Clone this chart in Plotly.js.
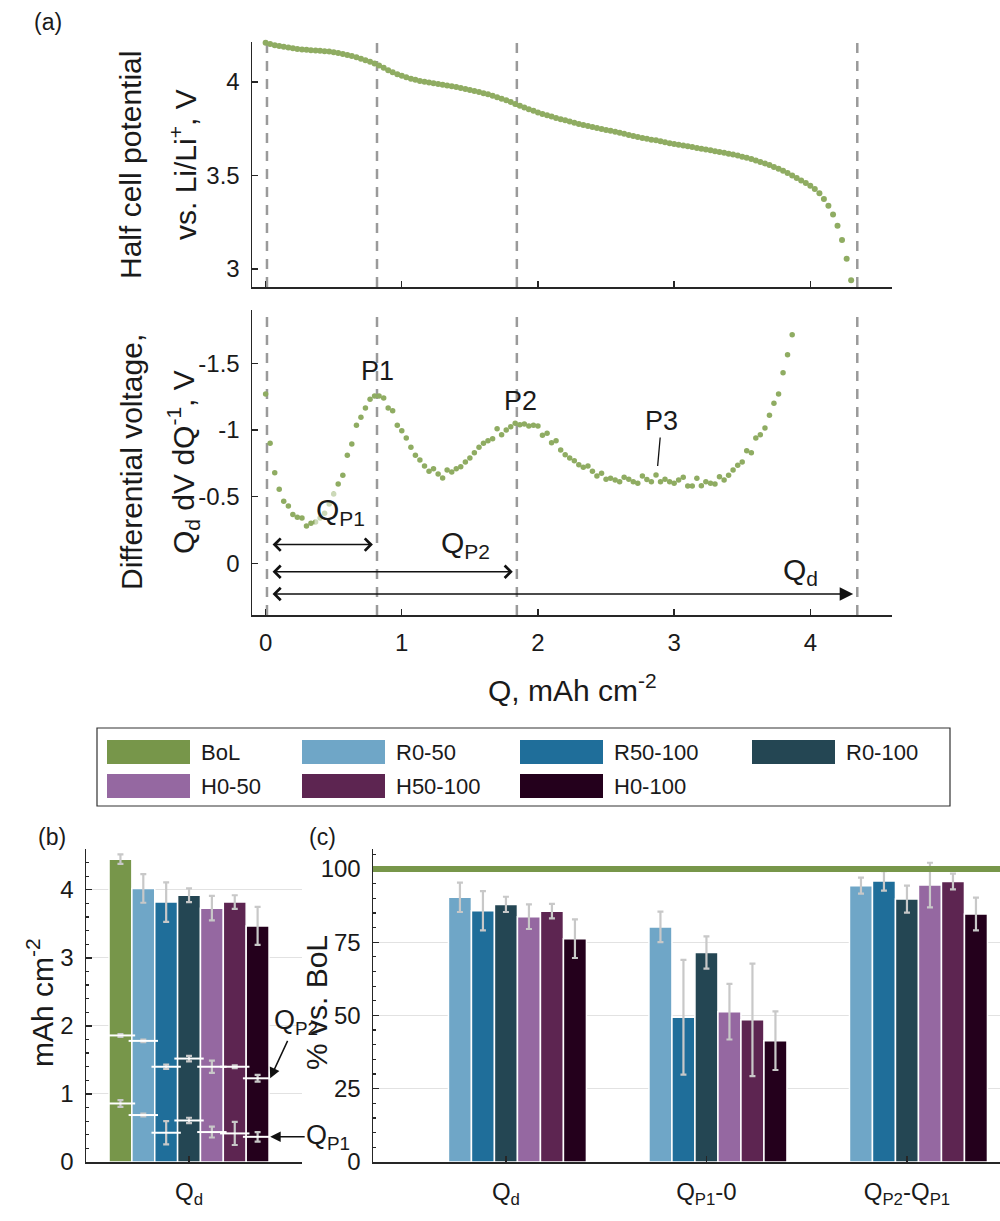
<!DOCTYPE html>
<html><head><meta charset="utf-8">
<script src="https://cdn.plot.ly/plotly-3.0.1.min.js"></script>
<style>html,body{margin:0;padding:0;background:#fff}#chart{width:1000px;height:1221px}</style>
</head><body><div id="chart"></div>
<script>
// ---------- data: panel (a) ----------
const Q = [0,0.033,0.067,0.1,0.133,0.167,0.2,0.233,0.267,0.3,
0.333,0.367,0.4,0.433,0.467,0.5,0.533,0.567,0.6,0.633,
0.667,0.7,0.733,0.767,0.8,0.833,0.867,0.9,0.933,0.967,
1,1.033,1.067,1.1,1.133,1.167,1.2,1.233,1.267,1.3,
1.333,1.367,1.4,1.433,1.467,1.5,1.533,1.567,1.6,1.633,
1.667,1.7,1.733,1.767,1.8,1.833,1.867,1.9,1.933,1.967,
2,2.033,2.067,2.1,2.133,2.167,2.2,2.233,2.267,2.3,
2.333,2.367,2.4,2.433,2.467,2.5,2.533,2.567,2.6,2.633,
2.667,2.7,2.733,2.767,2.8,2.833,2.867,2.9,2.933,2.967,
3,3.033,3.067,3.1,3.133,3.167,3.2,3.233,3.267,3.3,
3.333,3.367,3.4,3.433,3.467,3.5,3.533,3.567,3.6,3.633,
3.667,3.7,3.733,3.767,3.8,3.833,3.867,3.9,3.933,3.967,
4,4.033,4.067,4.1,4.133,4.167,4.2,4.233,4.267,4.3];

const halfCellV = [4.210,4.203,4.197,4.192,4.188,4.184,4.180,4.177,4.174,4.172,
4.170,4.168,4.167,4.165,4.163,4.159,4.155,4.150,4.145,4.139,
4.132,4.125,4.117,4.108,4.099,4.088,4.076,4.063,4.052,4.042,
4.033,4.025,4.018,4.012,4.006,4.001,3.997,3.993,3.989,3.985,
3.981,3.977,3.973,3.968,3.963,3.958,3.952,3.946,3.940,3.934,
3.927,3.919,3.911,3.902,3.893,3.883,3.873,3.864,3.855,3.846,
3.837,3.829,3.822,3.815,3.808,3.801,3.795,3.789,3.782,3.776,
3.770,3.765,3.760,3.754,3.749,3.744,3.739,3.734,3.729,3.724,
3.717,3.711,3.706,3.701,3.697,3.692,3.688,3.683,3.678,3.673,
3.669,3.665,3.660,3.656,3.652,3.647,3.643,3.639,3.635,3.630,
3.626,3.622,3.617,3.613,3.607,3.601,3.595,3.588,3.581,3.573,
3.565,3.556,3.546,3.536,3.525,3.513,3.500,3.487,3.473,3.460,
3.445,3.428,3.405,3.375,3.338,3.292,3.232,3.155,3.055,2.940];

const diffVoltage = [-1.27,-0.90,-0.68,-0.555,-0.465,-0.43,-0.365,-0.345,-0.34,-0.28,
-0.30,-0.31,-0.34,-0.375,-0.445,-0.52,-0.595,-0.66,-0.81,-0.895,
-1.035,-1.095,-1.165,-1.23,-1.255,-1.255,-1.24,-1.165,-1.145,-1.035,
-0.995,-0.94,-0.87,-0.81,-0.775,-0.73,-0.69,-0.71,-0.67,-0.64,
-0.70,-0.685,-0.71,-0.725,-0.76,-0.79,-0.83,-0.87,-0.90,-0.92,
-0.935,-1.01,-0.965,-1.00,-1.025,-1.05,-1.04,-1.045,-1.03,-1.035,
-1.03,-0.96,-0.975,-0.905,-0.92,-0.85,-0.815,-0.79,-0.77,-0.74,
-0.72,-0.73,-0.69,-0.655,-0.675,-0.63,-0.637,-0.625,-0.612,-0.645,
-0.63,-0.612,-0.60,-0.655,-0.628,-0.612,-0.662,-0.612,-0.63,-0.612,
-0.60,-0.625,-0.645,-0.58,-0.58,-0.637,-0.582,-0.612,-0.60,-0.595,
-0.65,-0.625,-0.66,-0.70,-0.735,-0.76,-0.845,-0.83,-0.94,-0.965,
-1.015,-1.11,-1.20,-1.27,-1.43,-1.565,-1.715];

// peak / end positions (Q0, QP1, QP2, Qd) and arrow heights
const markerQ = [0.01, 0.818, 1.845, 4.345];
const arrowLevel = [-0.14, 0.063, 0.23];
const peakLabels = ['P1', 'P2', 'P3'];
const peakLabelQ = [0.82, 1.87, 2.9];
const peakLabelV = [-1.44, -1.217, -1.06];
const p3PointQ = 2.879, p3PointV = -0.73;

// ---------- data: panels (b) and (c) ----------
const series = ['BoL','R0-50','R50-100','R0-100','H0-50','H50-100','H0-100'];
const seriesColors = ['#77964a','#6fa6c7','#1f6e9a','#244653','#9568a1','#5d2551','#24001c'];

const qdTotal = [4.45, 4.02, 3.82, 3.92, 3.73, 3.82, 3.47];
const qdErr   = [0.07, 0.21, 0.29, 0.10, 0.18, 0.10, 0.28];
const qp2     = [1.86, 1.78, 1.40, 1.52, 1.40, 1.40, 1.23];
const qp2Err  = [0.02, 0.02, 0.03, 0.04, 0.09, 0.02, 0.05];
const qp1     = [0.86, 0.69, 0.43, 0.61, 0.44, 0.42, 0.37];
const qp1Err  = [0.05, 0.02, 0.17, 0.04, 0.08, 0.17, 0.07];

const pctCategories = ['Q<sub>d</sub>', 'Q<sub>P1</sub>-0', 'Q<sub>P2</sub>-Q<sub>P1</sub>'];
const bolPct = 100;
const pctR050   = [90.3, 80.2, 94.3];  const errR050   = [5.0, 5.2, 2.7];
const pctR50100 = [85.7, 49.4, 95.9];  const errR50100 = [6.7, 19.6, 3.3];
const pctR0100  = [87.9, 71.5, 89.7];  const errR0100  = [2.6, 5.5, 4.6];
const pctH050   = [83.7, 51.3, 94.5];  const errH050   = [4.2, 9.5, 7.6];
const pctH50100 = [85.6, 48.5, 95.7];  const errH50100 = [2.5, 19.2, 2.7];
const pctH0100  = [76.2, 41.4, 84.6];  const errH0100  = [6.6, 10.0, 5.6];
const pctSeries = [pctR050, pctR50100, pctR0100, pctH050, pctH50100, pctH0100];
const pctErrs   = [errR050, errR50100, errR0100, errH050, errH50100, errH0100];

// ---------- layout helpers ----------
const W = 1000, H = 1221;
const px = v => v / W, py = v => 1 - v / H;
const FONT = 'Arial, "Liberation Sans", Helvetica, sans-serif';
const AX = '#262626';
const TXT = '#1a1a1a';
const DOT = '#8fac62';
const ERRC = '#c8c8c8';
const TICK = 24, TITLE = 30;

const common = {
  showline: true, linecolor: AX, linewidth: 1.5, mirror: false,
  ticks: 'inside', ticklen: 6, tickwidth: 1.3, tickcolor: AX,
  showgrid: false, zeroline: false, fixedrange: true,
  tickfont: {family: FONT, size: TICK, color: TXT}
};

const traces = [];
traces.push({type:'scatter', mode:'markers', x: Q, y: halfCellV, xaxis:'x', yaxis:'y',
  marker:{size:6, color:DOT}, hoverinfo:'skip', cliponaxis:false});
traces.push({type:'scatter', mode:'markers', x: Q.slice(0, diffVoltage.length), y: diffVoltage,
  xaxis:'x2', yaxis:'y2', marker:{size:5.5, color:DOT}, hoverinfo:'skip', cliponaxis:false});

// panel (b)
const seriesPos = series.map((s, i) => i + 1);
traces.push({type:'bar', x: seriesPos, y: qdTotal, width: 1, xaxis:'x3', yaxis:'y3',
  marker:{color: seriesColors, line:{color:'#ffffff', width:1.5}},
  error_y:{type:'data', array: qdErr, color: ERRC, thickness: 2.2, width: 3}, hoverinfo:'skip'});
[[qp2, qp2Err], [qp1, qp1Err]].forEach(([vals, errs]) => {
  traces.push({type:'scatter', mode:'markers', x: seriesPos, y: vals, xaxis:'x3', yaxis:'y3',
    marker:{symbol:'line-ew', size:21, color:'#ffffff', line:{color:'#ffffff', width:2}},
    error_y:{type:'data', array: errs, color: ERRC, thickness: 2.2, width: 3}, hoverinfo:'skip'});
});

// panel (c)
const slotW = 0.1147;
pctSeries.forEach((vals, j) => {
  const k = j + 1; // slot 0 belongs to BoL (drawn as the 100 % line)
  traces.push({type:'bar', name: series[k], x: pctCategories, y: vals, xaxis:'x4', yaxis:'y4',
    width: slotW, offset: -3.5 * slotW + k * slotW,
    marker:{color: seriesColors[k], line:{color:'#ffffff', width:1.5}},
    error_y:{type:'data', array: pctErrs[j], color: ERRC, thickness: 2.2, width: 3}, hoverinfo:'skip'});
});

// ---------- shapes ----------
const shapes = [];
['x','x2'].forEach((xr, n) => {
  const yr = n === 0 ? 'y domain' : 'y2 domain';
  markerQ.forEach(q => shapes.push({type:'line', xref: xr, yref: yr, x0:q, x1:q, y0:0, y1:1,
    line:{color:'#9a9a9a', width:2.5, dash:'10px,8px'}, layer:'below'}));
});
shapes.push({type:'line', xref:'x4 domain', yref:'y4', x0:0, x1:1, y0:bolPct, y1:bolPct,
  line:{color: seriesColors[0], width:6}, layer:'above'});

// legend (drawn manually to get the wide swatches)
const legCol = [107, 302, 520, 752], legRow = [752, 786];
const legPos = [[0,0],[1,0],[2,0],[3,0],[0,1],[1,1],[2,1]];
shapes.push({type:'rect', xref:'paper', yref:'paper', x0:px(97), x1:px(950), y0:py(806), y1:py(728),
  line:{color:'#333333', width:1.2}, fillcolor:'rgba(0,0,0,0)'});
const annotations = [];
series.forEach((name, i) => {
  const [c, r] = legPos[i];
  shapes.push({type:'rect', xref:'paper', yref:'paper', x0:px(legCol[c]), x1:px(legCol[c] + 83),
    y0:py(legRow[r] + 12), y1:py(legRow[r] - 12), line:{width:0}, fillcolor: seriesColors[i]});
  annotations.push({xref:'paper', yref:'paper', x:px(legCol[c] + 92), y:py(legRow[r]),
    xanchor:'left', yanchor:'middle', text: name, showarrow:false, font:{family:FONT, size:22, color:TXT}});
});

// ---------- annotations ----------
const txt = (text, x, y, size, extra) => Object.assign({xref:'paper', yref:'paper', x:px(x), y:py(y),
  xanchor:'center', yanchor:'middle', text, showarrow:false, font:{family:FONT, size, color:TXT}}, extra || {});
annotations.push(txt('(a)', 48, 22, 23));
annotations.push(txt('(b)', 52, 837, 23));
annotations.push(txt('(c)', 322, 837, 23));
annotations.push(txt('Half cell potential', 131, 165, TITLE, {textangle:-90}));
annotations.push(txt('vs. Li/Li<sup>+</sup>, V', 183, 165, TITLE, {textangle:-90}));
annotations.push(txt('Differential voltage,', 131, 462, TITLE, {textangle:-90}));
annotations.push(txt('Q<sub>d</sub> dV dQ<sup>-1</sup>, V', 183, 462, TITLE, {textangle:-90}));
annotations.push(txt('Q, mAh cm<sup>-2</sup>', 572, 688, TITLE));
annotations.push(txt('mAh cm<sup>-2</sup>', 40, 1003, TITLE, {textangle:-90}));
annotations.push(txt('% vs. BoL', 316, 1003, TITLE, {textangle:-90}));

// peak labels
peakLabels.slice(0, 2).forEach((t, i) => annotations.push({xref:'x2', yref:'y2', x: peakLabelQ[i], y: peakLabelV[i],
  text: t, showarrow:false, font:{family:FONT, size:27, color:TXT}}));
annotations.push({xref:'x2', yref:'y2', x: p3PointQ, y: p3PointV, ax: 4, ay: -45, text: peakLabels[2],
  showarrow:true, arrowhead:0, arrowwidth:1.3, arrowcolor:'#111', font:{family:FONT, size:27, color:TXT}});

// Q labels
annotations.push({xref:'x2', yref:'y2', x:0.55, y:-0.385, text:'Q<sub>P1</sub>', showarrow:false,
  bgcolor:'rgba(255,255,255,0.55)', font:{family:FONT, size:30, color:TXT}});
annotations.push({xref:'x2', yref:'y2', x:1.468, y:-0.14, text:'Q<sub>P2</sub>', showarrow:false,
  font:{family:FONT, size:30, color:TXT}});
annotations.push({xref:'x2', yref:'y2', x:3.93, y:0.065, text:'Q<sub>d</sub>', showarrow:false,
  font:{family:FONT, size:30, color:TXT}});

// double arrows
[1, 2, 3].forEach((k, i) => {
  annotations.push({xref:'x2', yref:'y2', axref:'x2', ayref:'y2',
    x: markerQ[k] - 0.03, y: arrowLevel[i], ax: markerQ[0] + 0.03, ay: arrowLevel[i],
    text:'', showarrow:true, arrowside:'end+start',
    arrowhead: k === 3 ? 2 : 4, startarrowhead: 4, arrowsize: k === 3 ? 1.8 : 1.6, startarrowsize: 1.6,
    arrowwidth:1.5, arrowcolor:'#111', standoff:0, startstandoff:0});
});

// panel (b) pointers
annotations.push({xref:'x3', yref:'y3', x: 7.55, y: qp2[6], ax: 26, ay: -56, text:'Q<sub>P2</sub>',
  showarrow:true, arrowhead:2, arrowsize:1.4, arrowwidth:1.5, arrowcolor:'#111',
  font:{family:FONT, size:27, color:TXT}});
annotations.push({xref:'x3', yref:'y3', x: 7.55, y: qp1[6], ax: 58, ay: 0, text:'Q<sub>P1</sub>',
  showarrow:true, arrowhead:2, arrowsize:1.4, arrowwidth:1.5, arrowcolor:'#111',
  font:{family:FONT, size:27, color:TXT}});

const layout = {
  width: W, height: H, margin:{l:0, r:0, t:0, b:0}, showlegend:false,
  paper_bgcolor:'#ffffff', plot_bgcolor:'rgba(0,0,0,0)', barmode:'overlay',
  font:{family:FONT, color:TXT},
  xaxis: Object.assign({}, common, {domain:[px(252), px(892)], anchor:'y', range:[-0.1, 4.6],
    tickvals:[0,1,2,3,4], showticklabels:false}),
  yaxis: Object.assign({}, common, {domain:[py(287), py(42)], anchor:'x', range:[2.904, 4.214],
    tickvals:[3,3.5,4], ticktext:['3','3.5','4'], ticklabelstandoff:6}),
  xaxis2: Object.assign({}, common, {domain:[px(252), px(892)], anchor:'y2', range:[-0.1, 4.6],
    tickvals:[0,1,2,3,4], ticktext:['0','1','2','3','4'], ticklabelstandoff:6}),
  yaxis2: Object.assign({}, common, {domain:[py(615), py(310)], anchor:'x2', range:[0.388, -1.9],
    tickvals:[0,-0.5,-1,-1.5], ticktext:['0','-0.5','-1','-1.5'], ticklabelstandoff:6}),
  xaxis3: Object.assign({}, common, {domain:[px(86), px(302)], anchor:'y3', range:[-0.507, 8.942],
    tickvals:[4], ticktext:['Q<sub>d</sub>'], ticklabelstandoff:8}),
  yaxis3: Object.assign({}, common, {domain:[py(1162), py(849)], anchor:'x3', range:[0, 4.6],
    tickvals:[0,1,2,3,4], ticktext:['0','1','2','3','4'], showgrid:true, gridcolor:'#e2e2e2', gridwidth:1,
    ticklabelstandoff:6,
    minor:{tickmode:'linear', tick0:0, dtick:0.2, ticks:'inside', ticklen:3, tickcolor:AX, showgrid:false}}),
  xaxis4: Object.assign({}, common, {domain:[px(373), 1], anchor:'y4', type:'category',
    range:[-0.663, 2.464], ticklabelstandoff:8}),
  yaxis4: Object.assign({}, common, {domain:[py(1162), py(849)], anchor:'x4', range:[0, 106.8],
    tickvals:[0,25,50,75,100], ticktext:['0','25','50','75','100'], showgrid:true, gridcolor:'#e2e2e2', gridwidth:1,
    ticklabelstandoff:6,
    minor:{tickmode:'linear', tick0:0, dtick:5, ticks:'inside', ticklen:3, tickcolor:AX, showgrid:false}}),
  shapes, annotations
};

Plotly.newPlot('chart', traces, layout, {staticPlot:true, displayModeBar:false});
</script></body></html>
